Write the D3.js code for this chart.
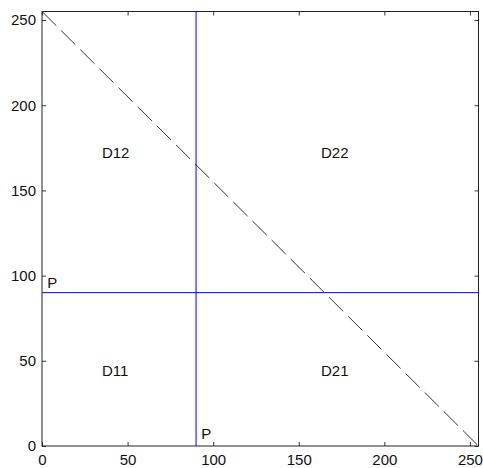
<!DOCTYPE html>
<html>
<head>
<meta charset="utf-8">
<script src="https://cdn.jsdelivr.net/npm/d3@7"></script>
<style>
  html, body { margin: 0; padding: 0; background: #fff; }
  text { font-family: "Liberation Sans", Arial, sans-serif; font-size: 15px; fill: #111; }
</style>
</head>
<body>
<div id="chart-container"></div>
<script>
// DATA
const X_DOMAIN = [0, 255];
const Y_DOMAIN = [0, 255];
const X_TICKS = [0, 50, 100, 150, 200, 250];
const Y_TICKS = [0, 50, 100, 150, 200, 250];
const THRESHOLD_X = [90];
const THRESHOLD_Y = [90];
const DIAGONAL = [[0, 255], [255, 0]];
const REGION_LABELS = [
  { text: "D12", x: 35, y: 172 },
  { text: "D22", x: 163, y: 172 },
  { text: "D11", x: 35, y: 44 },
  { text: "D21", x: 163, y: 44 }
];
const P_LABELS = [
  { text: "P", x: 3, y: 96 },
  { text: "P", x: 93, y: 7 }
];

const WIDTH = 483;
const HEIGHT = 468;
const MARGIN = { left: 42, right: 4.5, top: 11.5, bottom: 22 };
const TICK_LEN = 4;

const SVG = d3.select("#chart-container").append("svg")
  .attr("width", WIDTH)
  .attr("height", HEIGHT);

const X = d3.scaleLinear()
  .domain(X_DOMAIN)
  .range([MARGIN.left, WIDTH - MARGIN.right]);
const Y = d3.scaleLinear()
  .domain(Y_DOMAIN)
  .range([HEIGHT - MARGIN.bottom, MARGIN.top]);

// AXES (matlab style: ticks inside, on all four sides)
function styleAxis(g) {
  g.select(".domain").remove();
  g.selectAll(".tick line").attr("stroke", "#333");
  g.selectAll(".tick text").attr("font-size", null).attr("font-family", null).attr("fill", "#111");
}

SVG.append("g")
  .attr("transform", `translate(0,${Y.range()[0]})`)
  .call(d3.axisBottom(X).tickValues(X_TICKS).tickSizeInner(-TICK_LEN).tickSizeOuter(0).tickPadding(8))
  .call(styleAxis);
SVG.append("g")
  .attr("transform", `translate(0,${Y.range()[1]})`)
  .call(d3.axisTop(X).tickValues(X_TICKS).tickSizeInner(-TICK_LEN).tickSizeOuter(0).tickFormat(""))
  .call(styleAxis);
SVG.append("g")
  .attr("transform", `translate(${X.range()[0]},0)`)
  .call(d3.axisLeft(Y).tickValues(Y_TICKS).tickSizeInner(-TICK_LEN).tickSizeOuter(0).tickPadding(6))
  .call(styleAxis);
SVG.append("g")
  .attr("transform", `translate(${X.range()[1]},0)`)
  .call(d3.axisRight(Y).tickValues(Y_TICKS).tickSizeInner(-TICK_LEN).tickSizeOuter(0).tickFormat(""))
  .call(styleAxis);

// BOX
SVG.append("rect")
  .attr("x", X.range()[0])
  .attr("y", Y.range()[1])
  .attr("width", X.range()[1] - X.range()[0])
  .attr("height", Y.range()[0] - Y.range()[1])
  .attr("fill", "none")
  .attr("stroke", "#222")
  .attr("stroke-width", 1);

// DIAGONAL
SVG.append("path")
  .datum(DIAGONAL)
  .attr("d", d3.line().x(d => X(d[0])).y(d => Y(d[1])))
  .attr("fill", "none")
  .attr("stroke", "#333")
  .attr("stroke-width", 1)
  .attr("stroke-dasharray", "20,7");

// THRESHOLD LINES
SVG.selectAll(".vline")
  .data(THRESHOLD_X)
  .enter()
  .append("line")
  .attr("x1", d => X(d)).attr("x2", d => X(d))
  .attr("y1", Y(Y_DOMAIN[0])).attr("y2", Y(Y_DOMAIN[1]))
  .attr("stroke", "#0000ff")
  .attr("stroke-width", 1);
SVG.selectAll(".hline")
  .data(THRESHOLD_Y)
  .enter()
  .append("line")
  .attr("y1", d => Y(d)).attr("y2", d => Y(d))
  .attr("x1", X(X_DOMAIN[0])).attr("x2", X(X_DOMAIN[1]))
  .attr("stroke", "#0000ff")
  .attr("stroke-width", 1);

// LABELS
SVG.selectAll(".label")
  .data(REGION_LABELS.concat(P_LABELS))
  .enter()
  .append("text")
  .attr("x", d => X(d.x))
  .attr("y", d => Y(d.y))
  .attr("dy", "0.35em")
  .text(d => d.text);
</script>
</body>
</html>
